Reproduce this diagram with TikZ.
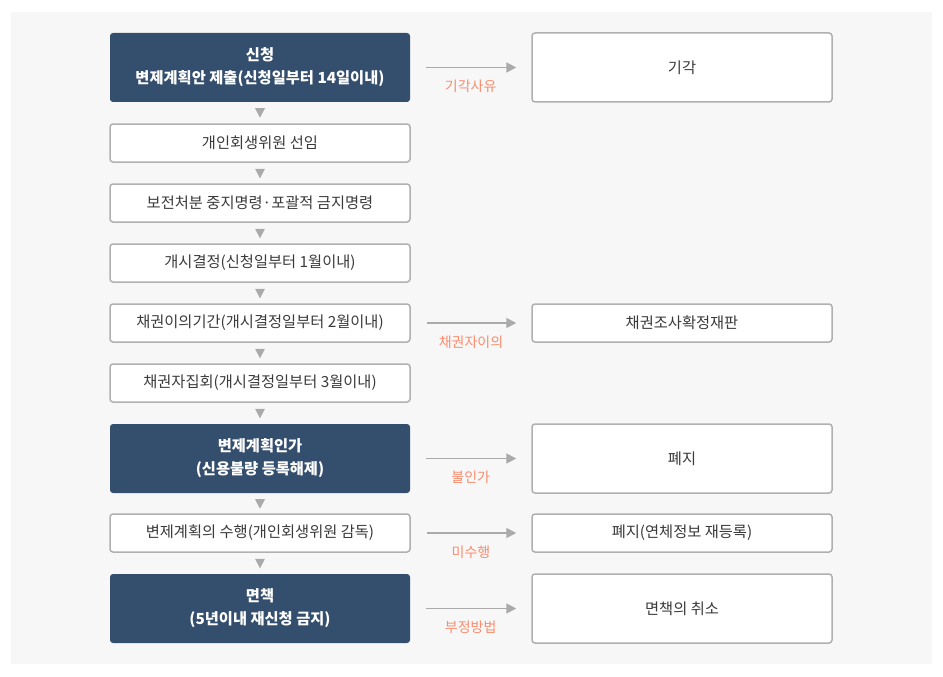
\documentclass[tikz,border=0pt]{standalone}
\usepackage{fontspec}
\setmainfont{Noto Sans CJK KR}
\usetikzlibrary{calc,arrows.meta}
\definecolor{bggray}{HTML}{F7F7F7}
\definecolor{darkbox}{HTML}{344E6E}
\definecolor{boxline}{HTML}{B0B0B0}
\definecolor{txtgray}{HTML}{3A3A3A}
\definecolor{salmon}{HTML}{F98D6E}
\definecolor{arrgray}{HTML}{AAAAAA}
\tikzset{
  base/.style={rounded corners=3pt, minimum width=300pt, inner sep=0pt, align=center,
    font=\fontsize{15.3}{23}\selectfont},
  lightbox/.style={base, draw=boxline, line width=1.5pt, fill=white, text=txtgray, minimum height=38pt},
  tallbox/.style={lightbox, minimum height=69pt},
  darkbx/.style={base, fill=darkbox, text=white, minimum height=69pt,
    font=\fontsize{15.3}{23}\selectfont\bfseries},
  sidearrow/.style={draw=arrgray, line width=1.8pt, shorten <=16pt, shorten >=15pt,
    -{Triangle[length=10pt,width=10pt,fill=arrgray]}},
  lbl/.style={text=salmon, font=\fontsize{14}{16}\selectfont},
  tri/.style={fill=arrgray}
}
\begin{document}
\begin{tikzpicture}[x=1pt,y=-1pt]
\useasboundingbox (0,0) rectangle (943,677);
\fill[bggray] (11,12) rectangle (932,664);
% left column
\node[darkbx] (n1) at (260,67.5) {신청\\변제계획안 제출(신청일부터 14일이내)};
\node[lightbox] (n2) at (260,143) {개인회생위원 선임};
\node[lightbox] (n3) at (260,203) {보전처분 중지명령·포괄적 금지명령};
\node[lightbox] (n4) at (260,263) {개시결정(신청일부터 1월이내)};
\node[lightbox] (n5) at (260,323) {채권이의기간(개시결정일부터 2월이내)};
\node[lightbox] (n6) at (260,383) {채권자집회(개시결정일부터 3월이내)};
\node[darkbx] (n7) at (260,458.5) {변제계획인가\\(신용불량 등록해제)};
\node[lightbox] (n8) at (260,533) {변제계획의 수행(개인회생위원 감독)};
\node[darkbx] (n9) at (260,608.5) {면책\\(5년이내 재신청 금지)};
% right column
\node[tallbox] (r1) at (682,67.5) {기각};
\node[lightbox] (r5) at (682,323) {채권조사확정재판};
\node[tallbox] (r7) at (682,458.5) {폐지};
\node[lightbox] (r8) at (682,533) {폐지(연체정보 재등록)};
\node[tallbox] (r9) at (682,608.5) {면책의 취소};
% down triangles
\foreach \a in {n1,n2,n3,n4,n5,n6,n7,n8} {
  \fill[tri] ($(\a.south)+(-5,6)$) -- ++(10,0) -- ++(-5,9.5) -- cycle;
}
% side arrows
\foreach \a/\b/\t in {n1/r1/기각사유, n5/r5/채권자이의, n7/r7/불인가, n8/r8/미수행, n9/r9/부정방법} {
  \draw[sidearrow] (\a.east) -- (\b.west);
  \node[lbl] (l\a) at ($(\a.east)!0.5!(\b.west)+(0,19)$) {\t};
}
\end{tikzpicture}
\end{document}
